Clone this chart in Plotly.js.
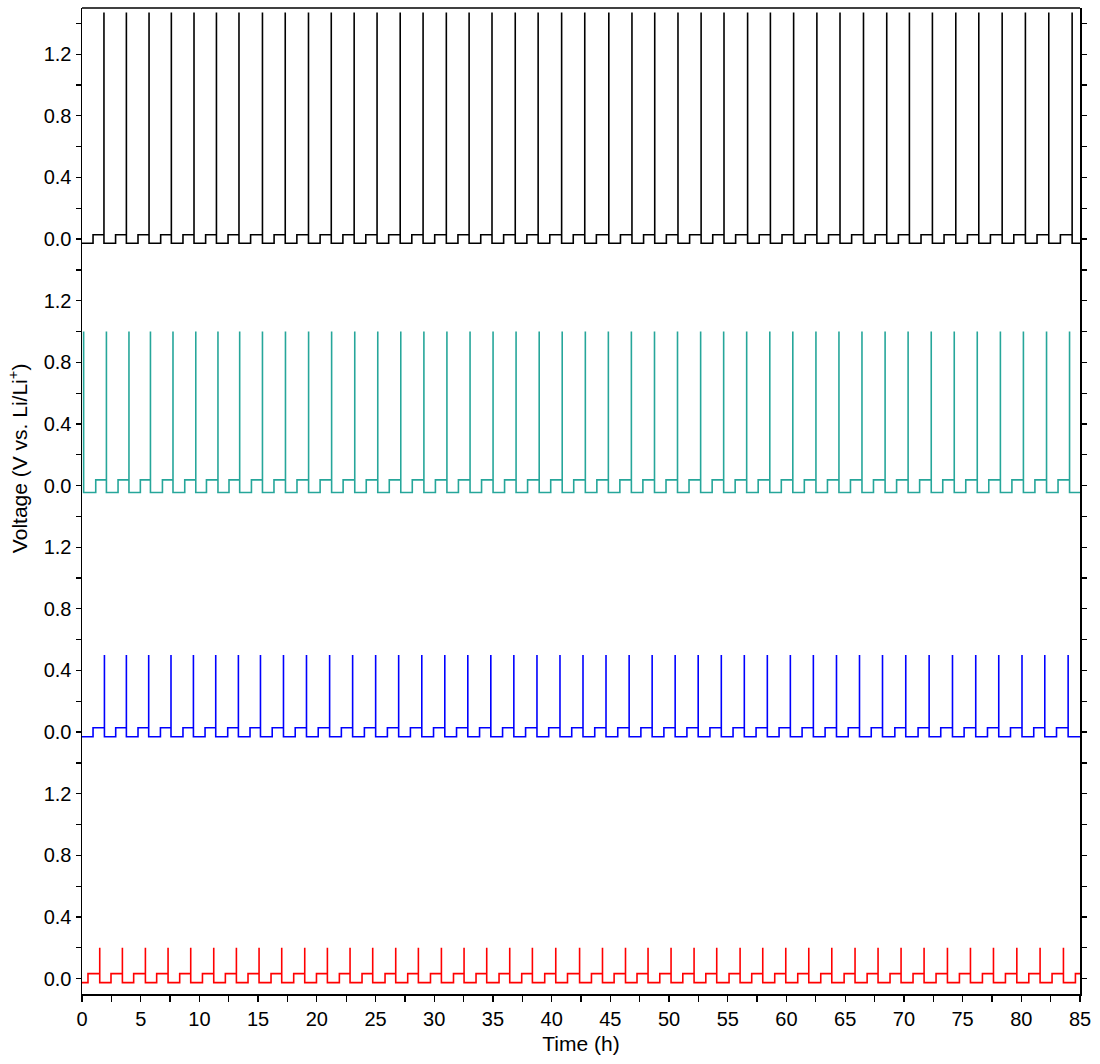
<!DOCTYPE html>
<html>
<head>
<meta charset="utf-8">
<script src="https://cdn.plot.ly/plotly-3.0.1.min.js"></script>
<style>
html,body{margin:0;padding:0;background:#fff;}
#chart{width:1100px;height:1064px;}
</style>
</head>
<body>
<div id="chart"></div>
<script>
// ---------------- DATA ----------------
// Time axis: hours. Each series: plating level, stripping level, cut-off spike level,
// times where stripping starts (step up) and times where the cut-off spike occurs.

// Top panel (black), cut-off ~1.5 V
const blackLevels = {plate: -0.027, strip: 0.028, cutoff: 1.47};
const blackStripStart = [0.94, 2.86, 4.77, 6.70, 8.60, 10.53, 12.44, 14.36, 16.36, 18.30, 20.28, 22.22, 24.17, 26.12, 28.09, 30.04, 32.02, 33.96, 35.91, 37.89, 39.84, 41.84, 43.81, 45.86, 47.83, 49.77, 51.75, 53.72, 55.67, 57.68, 59.62, 61.60, 63.58, 65.55, 67.55, 69.53, 71.46, 73.42, 75.41, 77.37, 79.36, 81.34, 83.33];
const blackSpike = [1.87, 3.78, 5.71, 7.61, 9.54, 11.45, 13.37, 15.37, 17.31, 19.29, 21.23, 23.18, 25.13, 27.10, 29.05, 31.03, 32.97, 34.92, 36.90, 38.85, 40.85, 42.82, 44.87, 46.84, 48.78, 50.76, 52.73, 54.68, 56.69, 58.63, 60.61, 62.59, 64.56, 66.56, 68.54, 70.47, 72.43, 74.42, 76.38, 78.37, 80.35, 82.34, 84.33];

// Second panel (teal), cut-off 1.0 V
const tealLevels = {plate: -0.045, strip: 0.037, cutoff: 1.0};
const tealStripStart = [1.17, 3.07, 4.97, 6.85, 8.75, 10.60, 12.52, 14.43, 16.35, 18.31, 20.28, 22.24, 24.21, 26.17, 28.13, 30.10, 32.06, 34.03, 35.99, 37.95, 39.92, 41.88, 43.85, 45.81, 47.77, 49.74, 51.70, 53.67, 55.63, 57.59, 59.56, 61.52, 63.49, 65.45, 67.41, 69.38, 71.34, 73.31, 75.27, 77.23, 79.20, 81.16, 83.13];
const tealSpike = [0.14, 2.08, 4.00, 5.83, 7.75, 9.69, 11.58, 13.43, 15.37, 17.33, 19.30, 21.26, 23.23, 25.19, 27.15, 29.12, 31.08, 33.05, 35.01, 36.97, 38.94, 40.90, 42.87, 44.83, 46.79, 48.76, 50.72, 52.69, 54.65, 56.61, 58.58, 60.54, 62.51, 64.47, 66.43, 68.40, 70.36, 72.33, 74.29, 76.25, 78.22, 80.18, 82.15, 84.11];

// Third panel (blue), cut-off 0.5 V
const blueLevels = {plate: -0.030, strip: 0.028, cutoff: 0.50};
const blueStripStart = [0.94, 2.87, 4.77, 6.68, 8.60, 10.48, 12.41, 14.31, 16.20, 18.16, 20.12, 22.09, 24.05, 26.01, 27.97, 29.94, 31.90, 33.86, 35.82, 37.78, 39.75, 41.71, 43.67, 45.63, 47.60, 49.56, 51.52, 53.48, 55.45, 57.41, 59.37, 61.33, 63.29, 65.26, 67.22, 69.23, 71.21, 73.14, 75.13, 77.12, 79.08, 81.06, 83.00];
const blueSpike = [1.91, 3.78, 5.68, 7.58, 9.49, 11.39, 13.32, 15.20, 17.16, 19.12, 21.09, 23.05, 25.01, 26.97, 28.94, 30.90, 32.86, 34.82, 36.78, 38.75, 40.71, 42.67, 44.63, 46.60, 48.56, 50.52, 52.48, 54.45, 56.41, 58.37, 60.33, 62.29, 64.26, 66.22, 68.18, 70.16, 72.15, 74.14, 76.12, 78.08, 80.06, 82.00, 83.99];

// Bottom panel (red), cut-off 0.2 V
const redLevels = {plate: -0.026, strip: 0.032, cutoff: 0.20};
const redStripStart = [0.51, 2.47, 4.40, 6.36, 8.32, 10.26, 12.21, 14.14, 16.10, 18.03, 19.97, 21.92, 23.85, 25.81, 27.74, 29.68, 31.64, 33.56, 35.52, 37.45, 39.41, 41.35, 43.39, 45.32, 47.27, 49.21, 51.17, 53.13, 55.11, 57.04, 59.00, 60.96, 62.92, 64.91, 66.87, 68.82, 70.78, 72.74, 74.73, 76.69, 78.65, 80.64, 82.62, 84.61];
const redSpike = [1.51, 3.44, 5.40, 7.33, 9.26, 11.22, 13.15, 15.08, 17.01, 18.97, 20.90, 22.83, 24.76, 26.72, 28.65, 30.61, 32.54, 34.47, 36.43, 38.36, 40.35, 42.38, 44.33, 46.29, 48.21, 50.17, 52.13, 54.06, 56.05, 57.98, 59.94, 61.90, 63.86, 65.84, 67.80, 69.76, 71.72, 73.71, 75.67, 77.63, 79.62, 81.60, 83.59];

const timeEnd = 85;
const xTickStep = 5;
const yTickVals = [0, 0.4, 0.8, 1.2];

// ---------------- BUILD TRACES ----------------
function buildWave(levels, stripStart, spikes, tEnd){
  const ev = [];
  stripStart.forEach(t => ev.push({t, k:'U'}));
  spikes.forEach(t => ev.push({t, k:'S'}));
  ev.sort((a,b)=>a.t-b.t);
  const x = [], y = [];
  let cur;
  if (ev[0].k === 'S') { cur = null; } else { x.push(0); y.push(levels.plate); cur = levels.plate; }
  ev.forEach(e => {
    if (e.k === 'U') {
      x.push(e.t, e.t); y.push(levels.plate, levels.strip); cur = levels.strip;
    } else {
      if (cur !== null) { x.push(e.t); y.push(cur); }
      x.push(e.t, e.t); y.push(levels.cutoff, levels.plate); cur = levels.plate;
    }
  });
  x.push(tEnd); y.push(cur);
  return {x, y};
}

const series = [
  {lv: redLevels,   u: redStripStart,   s: redSpike,   color: '#ff0000', ax: 'y'},
  {lv: blueLevels,  u: blueStripStart,  s: blueSpike,  color: '#0000ff', ax: 'y2'},
  {lv: tealLevels,  u: tealStripStart,  s: tealSpike,  color: '#26a69a', ax: 'y3'},
  {lv: blackLevels, u: blackStripStart, s: blackSpike, color: '#000000', ax: 'y4'}
];

const traces = series.map(sr => {
  const w = buildWave(sr.lv, sr.u, sr.s, timeEnd);
  return {x: w.x, y: w.y, type: 'scatter', mode: 'lines', xaxis: 'x', yaxis: sr.ax,
          line: {color: sr.color, width: 1.6}, hoverinfo: 'skip', showlegend: false};
});

const FONT = 'Liberation Sans, Arial, Helvetica, sans-serif';
function yAxis(domain){
  return {
    domain: domain, range: [-0.1, 1.5], anchor: 'x',
    tickvals: yTickVals, ticktext: yTickVals.map(v => v.toFixed(1)),
    ticks: 'outside', ticklen: 5, tickwidth: 1.3, tickcolor: '#000',
    minor: {tickvals: [0.2, 0.6, 1.0, 1.4], ticks: 'outside', ticklen: 5, tickwidth: 1.3, tickcolor: '#000', showgrid: false},
    showline: true, linewidth: 1.5, linecolor: '#000', mirror: 'ticks',
    showgrid: false, zeroline: false,
    tickfont: {family: FONT, size: 20, color: '#000'}
  };
}

const layout = {
  width: 1100, height: 1064,
  margin: {l: 82, r: 20, t: 8, b: 70},
  paper_bgcolor: '#fff', plot_bgcolor: '#fff',
  font: {family: FONT, color: '#000'},
  xaxis: {
    domain: [0, 1], range: [0, timeEnd], anchor: 'y',
    tick0: 0, dtick: xTickStep,
    ticks: 'outside', ticklen: 6, tickwidth: 1.3, tickcolor: '#000',
    minor: {dtick: xTickStep / 2, ticks: 'outside', ticklen: 6, tickwidth: 1.3, tickcolor: '#000', showgrid: false},
    showline: true, linewidth: 1.5, linecolor: '#000',
    showgrid: false, zeroline: false,
    tickfont: {family: FONT, size: 20, color: '#000'},
    title: {text: 'Time (h)', font: {family: FONT, size: 21, color: '#000'}, standoff: 8}
  },
  yaxis: yAxis([0, 0.25]),
  yaxis2: yAxis([0.25, 0.5]),
  yaxis3: yAxis([0.5, 0.75]),
  yaxis4: yAxis([0.75, 1]),
  shapes: [{type: 'line', xref: 'paper', yref: 'paper', x0: 0, x1: 1, y0: 1, y1: 1,
            line: {color: '#000', width: 1.5}}],
  annotations: [{
    text: 'Voltage (V vs. Li/Li<sup>+</sup>)', textangle: -90,
    xref: 'paper', yref: 'paper', x: -0.064, y: 0.5436,
    xanchor: 'center', yanchor: 'middle', showarrow: false,
    font: {family: FONT, size: 21, color: '#000'}
  }]
};

Plotly.newPlot('chart', traces, layout, {displayModeBar: false, staticPlot: true});
</script>
</body>
</html>
